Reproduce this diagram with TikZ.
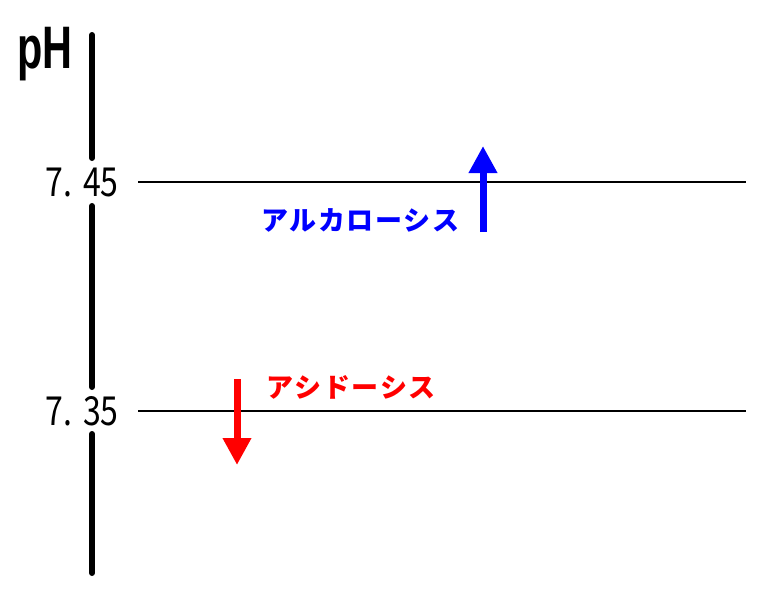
\documentclass[tikz,border=0pt]{standalone}
\usepackage{fontspec}
\setmainfont{Liberation Sans}
\newfontfamily\jpfont{Noto Sans CJK JP}
\usetikzlibrary{arrows.meta}
\definecolor{myblue}{RGB}{0,0,255}
\definecolor{myred}{RGB}{255,0,0}
\tikzset{
  axisline/.style={line width=6pt, line cap=round},
  levelline/.style={line width=1.5pt},
  ticklabel/.style={font=\fontsize{40}{40}\selectfont\jpfont, inner sep=0pt, anchor=base},
  arrowblue/.style={line width=7pt, myblue, -{Triangle[width=27pt,length=27pt]}},
  arrowred/.style={line width=7pt, myred, -{Triangle[width=27pt,length=27pt]}},
  jplabel/.style={font=\fontsize{27}{27}\selectfont\jpfont\bfseries, inner sep=0pt, anchor=west},
}
\begin{document}
\begin{tikzpicture}[x=1pt,y=-1pt]
\useasboundingbox (0,0) rectangle (765,600);
\fill[white] (0,0) rectangle (765,600);
% pH label
\node[font=\fontsize{60}{60}\selectfont\bfseries, inner sep=0pt, anchor=base west] (ph) at (17,68) {\scalebox{0.69}[1]{pH}};
% axis coordinates
\coordinate (a0) at (92,35);
\coordinate (a1) at (92,158);
\coordinate (a2) at (92,206);
\coordinate (a3) at (92,387);
\coordinate (a4) at (92,434);
\coordinate (a5) at (92,573);
\draw[axisline] (a0) -- (a1);
\draw[axisline] (a2) -- (a3);
\draw[axisline] (a4) -- (a5);
% tick labels
\node[ticklabel] (t745) at (82,196) {\scalebox{0.8}[1]{7.\hspace{14pt}45}};
\node[ticklabel] (t735) at (82,425) {\scalebox{0.8}[1]{7.\hspace{14pt}35}};
% level lines
\coordinate (l1a) at (138,182);
\coordinate (l1b) at (746,182);
\coordinate (l2a) at (138,411);
\coordinate (l2b) at (746,411);
\draw[levelline] (l1a) -- (l1b);
\draw[levelline] (l2a) -- (l2b);
% arrows
\coordinate (ba) at (483,232);
\coordinate (bb) at (483,146);
\draw[arrowblue] (ba) -- (bb);
\coordinate (ra) at (237,379);
\coordinate (rb) at (237,465);
\draw[arrowred] (ra) -- (rb);
% labels
\node[jplabel, text=myblue] (alk) at (261,220) {ア\hspace{1.5pt}ル\hspace{1.5pt}カ\hspace{1.5pt}ロ\hspace{1.5pt}ー\hspace{1.5pt}シ\hspace{1.5pt}ス};
\node[jplabel, text=myred] (aci) at (266,387) {ア\hspace{1.5pt}シ\hspace{1.5pt}ド\hspace{1.5pt}ー\hspace{1.5pt}シ\hspace{1.5pt}ス};
\end{tikzpicture}
\end{document}
